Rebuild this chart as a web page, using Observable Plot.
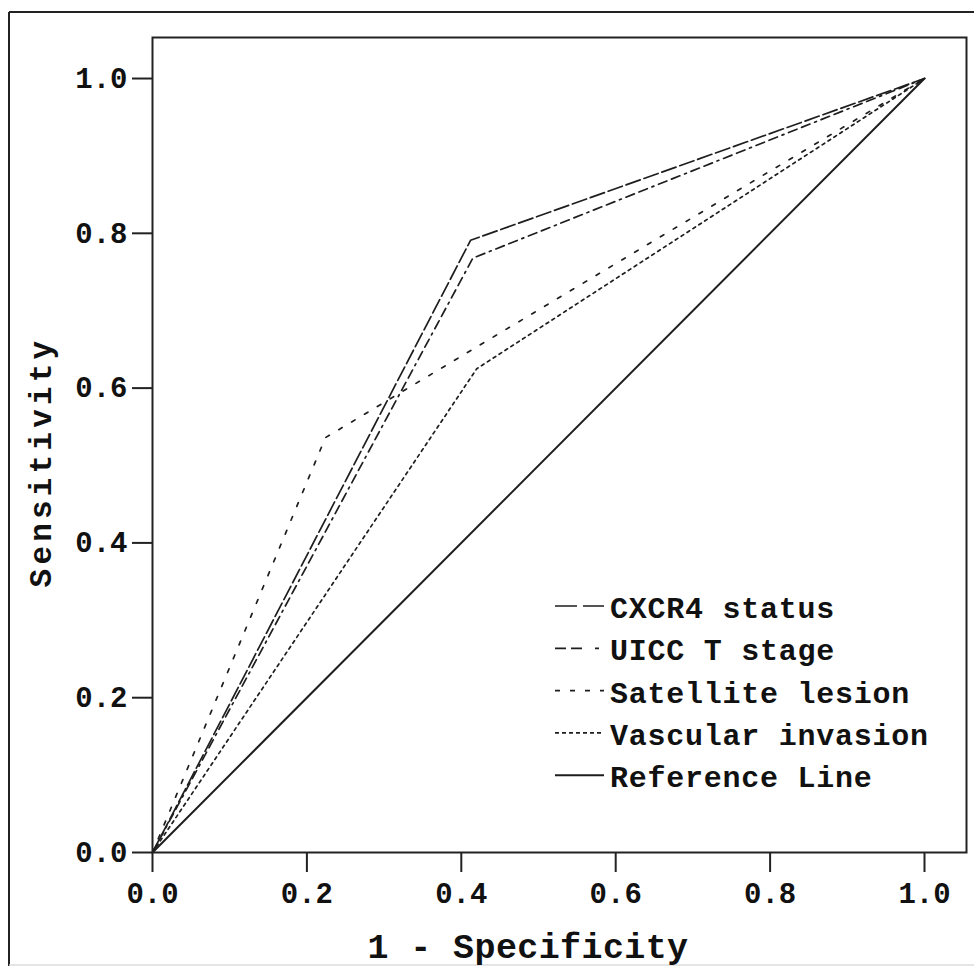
<!DOCTYPE html>
<html>
<head>
<meta charset="utf-8">
<script src="https://cdn.jsdelivr.net/npm/d3@7"></script>
<script src="https://cdn.jsdelivr.net/npm/@observablehq/plot@0.6"></script>
<style>
  html, body { margin: 0; padding: 0; background: #fff; }
  #chart { width: 974px; height: 968px; }
</style>
</head>
<body>
<div id="chart"></div>
<script>
// ---- data ----
const seriesNames = ["CXCR4 status", "UICC T stage", "Satellite lesion", "Vascular invasion", "Reference Line"];
const cxcr4X = [0, 0.412, 1];
const cxcr4Y = [0, 0.791, 1];
const uiccX = [0, 0.415, 1];
const uiccY = [0, 0.768, 1];
const satX = [0, 0.224, 1];
const satY = [0, 0.536, 1];
const vascX = [0, 0.420, 1];
const vascY = [0, 0.625, 1];
const refX = [0, 1];
const refY = [0, 1];
const xTicks = [0, 0.2, 0.4, 0.6, 0.8, 1.0];
const yTicks = [0, 0.2, 0.4, 0.6, 0.8, 1.0];
const xTitle = "1 - Specificity";
const yTitle = "Sensitivity";

// styles (not data)
const styles = {
  "CXCR4 status":      {dash: "15,4",            legendDash: "22,6",            width: 1.7},
  "UICC T stage":      {dash: "9,5,9,5,2,5",     legendDash: "11,5,11,13,4,20", width: 1.7},
  "Satellite lesion":  {dash: "4,11",            legendDash: "5,10",            width: 1.7},
  "Vascular invasion": {dash: "3,4",             legendDash: "4,3",             width: 1.7},
  "Reference Line":    {dash: null,              legendDash: null,              width: 2}
};

const xs = [cxcr4X, uiccX, satX, vascX, refX];
const ys = [cxcr4Y, uiccY, satY, vascY, refY];
const table = seriesNames.map((name, i) => xs[i].map((x, j) => ({name, x, y: ys[i][j]})));

const fmt = d3.format(".1f");
const FONT = "'Liberation Mono', 'DejaVu Sans Mono', monospace";

const lineMarks = table.map((rows, i) => {
  const s = styles[seriesNames[i]];
  const opts = {x: "x", y: "y", stroke: "#1e1e1e", strokeWidth: s.width};
  if (s.dash) opts.strokeDasharray = s.dash;
  return Plot.line(rows, opts);
});

const svg = Plot.plot({
  width: 974,
  height: 968,
  marginLeft: 152,
  marginRight: 8,
  marginTop: 37,
  marginBottom: 116,
  x: {domain: [0, 1.0544]},
  y: {domain: [0, 1.053]},
  style: {fontFamily: FONT, fontSize: "29px", fontWeight: "bold", color: "#111", background: "white", overflow: "visible"},
  marks: [
    ...lineMarks,
    Plot.frame({stroke: "#222", strokeWidth: 2}),
    Plot.axisX(xTicks, {tickSize: 20, tickPadding: 10, tickFormat: fmt, label: null, strokeWidth: 2, stroke: "#222", fontSize: 29, fontWeight: "bold", fill: "#111"}),
    Plot.axisY(yTicks, {tickSize: 20, tickPadding: 5, tickFormat: fmt, label: null, strokeWidth: 2, stroke: "#222", fontSize: 29, fontWeight: "bold", fill: "#111"})
  ]
});

const root = d3.select(svg);

// outer border of the figure
root.append("line").attr("x1", 9).attr("y1", 12).attr("x2", 974).attr("y2", 12).attr("stroke", "#222").attr("stroke-width", 2);
root.append("line").attr("x1", 9).attr("y1", 12).attr("x2", 9).attr("y2", 966).attr("stroke", "#222").attr("stroke-width", 2);
root.append("line").attr("x1", 9).attr("y1", 965).attr("x2", 974).attr("y2", 965).attr("stroke", "#ddd").attr("stroke-width", 1.5);

// axis titles
root.append("text")
  .attr("x", 528).attr("y", 958)
  .attr("text-anchor", "middle")
  .attr("font-family", FONT).attr("font-size", 35).attr("font-weight", "bold")
  .attr("letter-spacing", 0.4)
  .attr("fill", "#111")
  .text(xTitle);

root.append("text")
  .attr("transform", "translate(51,462) rotate(-90)")
  .attr("text-anchor", "middle")
  .attr("font-family", FONT).attr("font-size", 31).attr("font-weight", "bold")
  .attr("letter-spacing", 4.2)
  .attr("fill", "#111")
  .text(yTitle);

// legend (inside the plot area, lower right)
const legend = root.append("g").attr("text-anchor", "start");
const rowY0 = 606, rowStep = 42.3;
seriesNames.forEach((name, i) => {
  const s = styles[name];
  const cy = rowY0 + i * rowStep;
  const ln = legend.append("line")
    .attr("x1", 555).attr("x2", 604)
    .attr("y1", cy).attr("y2", cy)
    .attr("stroke", "#1e1e1e").attr("stroke-width", s.width);
  if (s.legendDash) ln.attr("stroke-dasharray", s.legendDash);
  legend.append("text")
    .attr("x", 610).attr("y", cy + 12)
    .attr("text-anchor", "start")
    .attr("font-family", FONT).attr("font-size", 30).attr("font-weight", "bold")
    .attr("letter-spacing", 0.75)
    .attr("fill", "#111")
    .text(name);
});

document.getElementById("chart").appendChild(svg);
</script>
</body>
</html>
